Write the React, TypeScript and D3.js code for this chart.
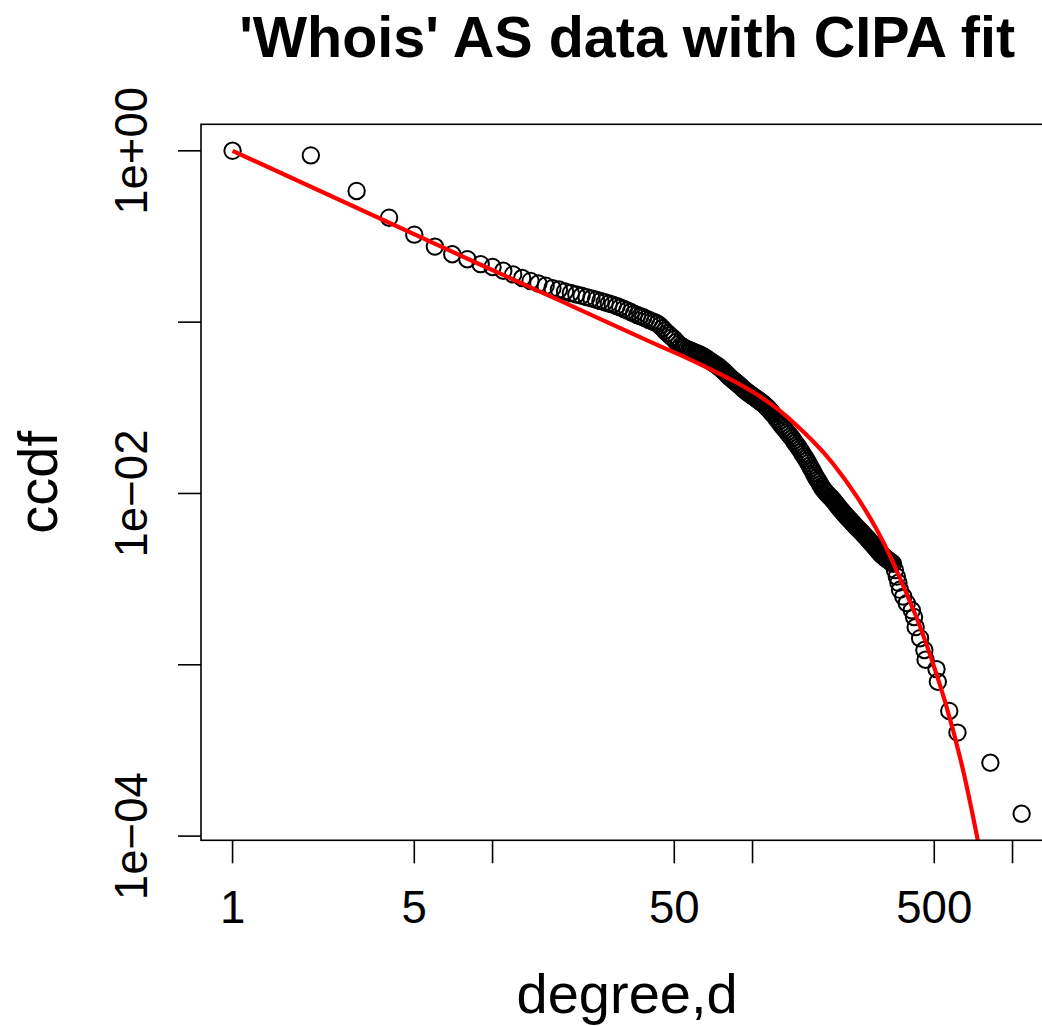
import React from "react";
import * as d3 from "d3";

// ---- data ----
const degrees = [
  1, 2, 3, 4, 5, 6, 7, 8, 9, 10,
  11, 12, 13, 14, 15, 16, 17, 18, 19, 20,
  21, 22, 23, 24, 25, 26, 27, 28, 29, 30,
  31, 32, 33, 34, 35, 36, 37, 38, 39, 40,
  41, 42, 43, 44, 45, 46, 47, 48, 49, 50,
  51, 52, 53, 54, 55, 56, 57, 58, 59, 60,
  61, 62, 63, 64, 65, 66, 67, 68, 69, 70,
  71, 72, 73, 74, 75, 76, 77, 78, 79, 80,
  81, 82, 83, 84, 85, 86, 87, 88, 89, 90,
  91, 92, 93, 94, 95, 96, 97, 98, 99, 100,
  101, 102, 103, 104, 105, 106, 107, 108, 109, 110,
  111, 112, 113, 114, 115, 116, 117, 118, 119, 120,
  122, 124, 126, 128, 130, 132, 134, 136, 138, 140,
  142, 144, 146, 148, 150, 152, 154, 156, 158, 160,
  162, 164, 166, 168, 170, 172, 174, 176, 178, 180,
  182, 184, 186, 188, 190, 192, 194, 196, 198, 200,
  202, 204, 206, 208, 210, 212, 214, 216, 218, 220,
  222, 224, 226, 228, 230, 232, 234, 236, 238, 240,
  242, 244, 246, 248, 250, 253, 256, 259, 262, 265,
  268, 271, 274, 277, 280, 283, 286, 289, 292, 295,
  298, 301, 304, 307, 310, 313, 316, 319, 322, 325,
  328, 331, 334, 337, 340, 343, 347, 353, 359, 364,
  369, 380, 392, 410, 418, 424, 441, 458, 463, 510,
  516, 571, 614, 822, 1084,
];

const ccdf = [
  1, 0.94, 0.583, 0.407, 0.324, 0.276, 0.249, 0.233, 0.218, 0.21,
  0.1995, 0.19, 0.181, 0.174, 0.168, 0.163, 0.158, 0.155, 0.151, 0.148,
  0.145, 0.1426, 0.14, 0.1377, 0.1352, 0.133, 0.1306, 0.1285, 0.1265, 0.1242,
  0.1219, 0.1194, 0.1169, 0.1146, 0.1122, 0.1102, 0.1084, 0.1067, 0.1047, 0.103,
  0.1014, 0.1, 0.0982, 0.0955, 0.0923, 0.0891, 0.0863, 0.0838, 0.0815, 0.0794,
  0.0767, 0.0745, 0.0729, 0.0716, 0.0705, 0.0695, 0.0689, 0.0681, 0.0673, 0.0665,
  0.0658, 0.0652, 0.0645, 0.0637, 0.0628, 0.0619, 0.061, 0.06, 0.0591, 0.0582,
  0.0574, 0.0566, 0.0558, 0.055, 0.054, 0.0531, 0.0522, 0.0513, 0.0503, 0.0493,
  0.0484, 0.0476, 0.0468, 0.0461, 0.0454, 0.0447, 0.0441, 0.0435, 0.0428, 0.0422,
  0.0415, 0.0409, 0.0403, 0.0398, 0.0393, 0.0388, 0.0383, 0.0379, 0.0375, 0.0371,
  0.0367, 0.0363, 0.0359, 0.0355, 0.0352, 0.0348, 0.0344, 0.0341, 0.0337, 0.0333,
  0.0329, 0.0325, 0.0321, 0.0317, 0.0313, 0.0308, 0.0304, 0.0299, 0.0294, 0.029,
  0.0281, 0.0272, 0.0263, 0.0255, 0.0248, 0.0241, 0.0235, 0.0228, 0.0222, 0.0216,
  0.021, 0.0203, 0.0197, 0.0192, 0.0187, 0.0181, 0.0175, 0.017, 0.0165, 0.016,
  0.0155, 0.015, 0.0145, 0.014, 0.0136, 0.0131, 0.0127, 0.0123, 0.012, 0.0117,
  0.0113, 0.011, 0.0107, 0.0105, 0.0103, 0.0101, 0.00993, 0.00977, 0.00961, 0.00946,
  0.00931, 0.00916, 0.009, 0.00883, 0.00867, 0.00851, 0.00836, 0.00821, 0.00807, 0.00794,
  0.00781, 0.00768, 0.00756, 0.00745, 0.00733, 0.00724, 0.00714, 0.00705, 0.00695, 0.00686,
  0.00676, 0.00667, 0.00658, 0.00649, 0.00641, 0.00629, 0.00618, 0.00607, 0.00596, 0.00585,
  0.00574, 0.00564, 0.00555, 0.00545, 0.00535, 0.00525, 0.00515, 0.00506, 0.00497, 0.00488,
  0.0048, 0.00471, 0.00463, 0.00455, 0.00447, 0.00441, 0.00435, 0.0043, 0.00424, 0.00419,
  0.00415, 0.00411, 0.00406, 0.00402, 0.00398, 0.00394, 0.00389, 0.00357, 0.00327, 0.00301,
  0.00274, 0.0025, 0.00229, 0.00208, 0.0019, 0.00166, 0.00143, 0.00122, 0.00107, 0.000944,
  0.000796, 0.000538, 0.000402, 0.000268, 0.000135,
];

// CIPA fit curve
const fitDegrees = [1, 9, 18, 40.3, 52.6, 70.6, 95, 127.5, 170.8, 204.4, 251.5, 300.3, 347.7, 421.5, 474.2, 549.8, 646.4, 738.7];
const fitCcdf = [1, 0.2163, 0.1343, 0.0769, 0.0644, 0.0521, 0.0411, 0.0303, 0.02015, 0.01485, 0.00962, 0.00616, 0.00394, 0.001986, 0.001226, 0.000611, 0.0002398, 0.0000911];

const xTicks = [1, 5, 10, 50, 100, 500, 1000];
const xTickLabels = ["1", "5", "", "50", "", "500", ""];
const yTicks = [1, 0.1, 0.01, 0.001, 0.0001];
const yTickLabels = ["1e+00", "", "1e\u221202", "", "1e\u221204"];

const titleText = "'Whois' AS data with CIPA fit";
const xTitle = "degree,d";
const yTitle = "ccdf";

const FONT = "'Liberation Sans', Arial, Helvetica, sans-serif";

export default function App() {
  const W = 1042;
  const H = 1026;
  const left = 201;
  const right = 1053.2;
  const top = 124.3;
  const bottom = 840.3;

  const lx = d3.extent(degrees.map((d) => Math.log10(d))) as [number, number];
  const ly = d3.extent(ccdf.map((v) => Math.log10(v))) as [number, number];
  const ex = 0.04 * (lx[1] - lx[0]);
  const ey = 0.04 * (ly[1] - ly[0]);

  const x = d3.scaleLog().domain([10 ** (lx[0] - ex), 10 ** (lx[1] + ex)]).range([left, right]);
  const y = d3.scaleLog().domain([10 ** (ly[0] - ey), 10 ** (ly[1] + ey)]).range([bottom, top]);

  const fitPts: [number, number][] = fitDegrees.map((d, i) => [x(d), y(fitCcdf[i])]);
  const linePath = d3.line().curve(d3.curveNatural)(fitPts) || "";

  const cx = (left + right) / 2;
  const cy = (top + bottom) / 2;
  const tickLen = 23;

  return (
    <svg
      width={W}
      height={H}
      viewBox={`0 0 ${W} ${H}`}
      style={{ position: "absolute", left: 0, top: 0, background: "#fff" }}
      fontFamily={FONT}
    >
      <defs>
        <clipPath id="plotclip">
          <rect x={left} y={top} width={right - left} height={bottom - top} />
        </clipPath>
      </defs>
      <rect x={0} y={0} width={W} height={H} fill="#fff" />

      {/* points */}
      <g>
        {degrees.map((d, i) => (
          <circle key={i} cx={x(d)} cy={y(ccdf[i])} r={8.2} fill="none" stroke="#000" strokeWidth={2} />
        ))}
      </g>

      {/* fit line */}
      <g clipPath="url(#plotclip)">
        <path d={linePath} fill="none" stroke="#ff0000" strokeWidth={4.2} />
      </g>

      {/* box */}
      <rect x={left} y={top} width={right - left} height={bottom - top} fill="none" stroke="#000" strokeWidth={1.6} />

      {/* x axis */}
      <g>
        {xTicks.map((t, i) => (
          <g key={i}>
            <line x1={x(t)} x2={x(t)} y1={bottom} y2={bottom + tickLen} stroke="#000" strokeWidth={1.6} />
            {xTickLabels[i] && (
              <text x={x(t)} y={923} textAnchor="middle" fontSize={45.6}>
                {xTickLabels[i]}
              </text>
            )}
          </g>
        ))}
      </g>

      {/* y axis */}
      <g>
        {yTicks.map((t, i) => (
          <g key={i}>
            <line x1={left - tickLen} x2={left} y1={y(t)} y2={y(t)} stroke="#000" strokeWidth={1.6} />
            {yTickLabels[i] && (
              <text transform={`translate(147,${y(t)}) rotate(-90)`} textAnchor="middle" fontSize={45.6}>
                {yTickLabels[i]}
              </text>
            )}
          </g>
        ))}
      </g>

      {/* titles */}
      <text x={cx} y={57} textAnchor="middle" fontSize={57.5} fontWeight="bold">
        {titleText}
      </text>
      <text x={cx} y={1013} textAnchor="middle" fontSize={56}>
        {xTitle}
      </text>
      <text transform={`translate(57,${cy}) rotate(-90)`} textAnchor="middle" fontSize={56}>
        {yTitle}
      </text>
    </svg>
  );
}
